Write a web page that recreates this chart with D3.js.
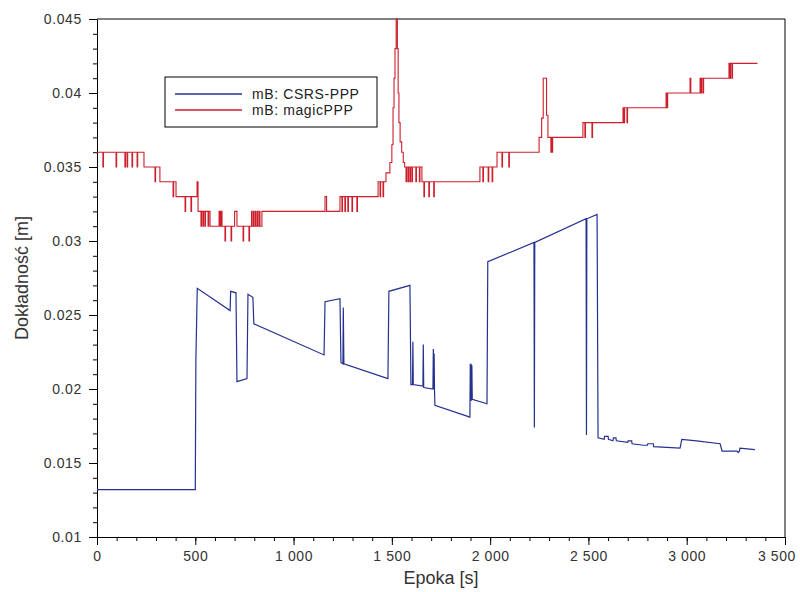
<!DOCTYPE html>
<html>
<head>
<meta charset="utf-8">
<script src="https://cdn.jsdelivr.net/npm/d3@7"></script>
<style>
  body { margin: 0; background: #fff; }
  text { font-family: "Liberation Sans", Arial, sans-serif; }
</style>
</head>
<body>
<div id="chart"></div>
<script>

// magicPPP: [epoka, dokladnosc] - step values (stepAfter)
var magicPPP = [
  [0,0.036],[30,0.035],[33,0.036],[97,0.035],[100,0.036],[142,0.035],[145,0.036],[153,0.035],[156,0.036],
  [178,0.035],[181,0.036],[204,0.035],[207,0.036],
  [239,0.035],[295,0.034],[298,0.035],
  [320,0.034],[387,0.033],[390,0.034],
  [402,0.033],[448,0.032],[451,0.033],[478,0.032],[481,0.033],
  [509,0.034],[514,0.032],[529,0.031],[532,0.032],[539,0.031],[542,0.032],[549,0.031],[552,0.032],[565,0.031],[568,0.032],
  [575,0.031],[621,0.032],[624,0.031],[627,0.032],[630,0.031],[633,0.032],[636,0.031],
  [651,0.030],[654,0.031],[682,0.030],[685,0.031],
  [700,0.032],[712,0.031],[743,0.030],[746,0.031],[773,0.030],[776,0.031],
  [786,0.032],[789,0.031],[796,0.032],[799,0.031],[806,0.032],[809,0.031],[816,0.032],[819,0.031],[826,0.032],[829,0.031],
  [839,0.032],[1160,0.033],[1168,0.032],
  [1236,0.033],[1246,0.032],[1249,0.033],[1261,0.032],[1264,0.033],[1276,0.032],[1279,0.033],[1297,0.032],[1300,0.033],[1322,0.032],[1325,0.033],
  [1430,0.034],[1440,0.033],[1443,0.034],[1455,0.033],[1458,0.034],
  [1470,0.0346],[1490,0.0353],[1500,0.0365],[1506,0.039],[1511,0.041],[1516,0.043],[1522,0.045],[1528,0.043],[1532,0.040],
  [1536,0.038],[1542,0.0367],[1550,0.036],[1558,0.0353],
  [1565,0.035],[1572,0.034],[1575,0.035],[1582,0.034],[1585,0.035],[1592,0.034],[1595,0.035],[1602,0.034],[1605,0.035],
  [1622,0.034],[1625,0.035],[1640,0.034],[1643,0.035],
  [1653,0.034],[1663,0.033],[1666,0.034],[1688,0.033],[1691,0.034],[1713,0.033],[1716,0.034],
  [1948,0.035],[1963,0.034],[1966,0.035],[1990,0.034],[1993,0.035],[2010,0.034],[2013,0.035],
  [2035,0.036],[2060,0.035],[2063,0.036],[2095,0.035],[2098,0.036],
  [2249,0.037],[2262,0.0383],[2270,0.041],[2287,0.0385],[2294,0.037],
  [2309,0.036],[2312,0.037],[2315,0.036],[2318,0.037],
  [2472,0.038],[2482,0.037],[2485,0.038],[2518,0.037],[2521,0.038],
  [2676,0.039],[2681,0.038],[2684,0.039],[2696,0.038],[2699,0.039],
  [2895,0.040],[2900,0.039],[2903,0.040],
  [3017,0.041],[3021,0.040],
  [3068,0.041],[3073,0.040],[3076,0.041],[3083,0.040],[3086,0.041],
  [3215,0.042],[3220,0.041],[3223,0.042],[3230,0.041],[3233,0.042],
  [3360,0.042]
];

// CSRS-PPP: [epoka, dokladnosc] - linear
var csrsPPP = [
  [0,0.0132],[500,0.0132],[503,0.0219],[510,0.0268],
  [677,0.0253],[680,0.0266],[707,0.0265],[712,0.0205],
  [763,0.0207],[768,0.0264],[793,0.0262],[798,0.0244],
  [1155,0.0223],[1160,0.0259],[1236,0.0261],[1241,0.0218],
  [1251,0.0217],[1253,0.0255],[1256,0.0217],
  [1480,0.0207],[1485,0.0266],[1592,0.0270],[1597,0.0203],
  [1605,0.0203],[1607,0.0232],[1609,0.0203],
  [1658,0.0202],[1660,0.0230],[1662,0.0201],
  [1709,0.0200],[1711,0.0227],[1713,0.0200],[1715,0.0224],[1717,0.0199],
  [1719,0.0189],[1897,0.0181],
  [1899,0.0217],[1901,0.0192],[1903,0.0217],[1905,0.0192],[1907,0.0216],[1909,0.0193],
  [1984,0.0190],[1988,0.0286],
  [2223,0.0299],[2225,0.0174],[2227,0.0299],
  [2488,0.0315],[2490,0.0169],[2492,0.0315],
  [2544,0.0318],[2549,0.0167],
  [2580,0.0166],[2582,0.0168],[2600,0.0168],[2602,0.0166],[2625,0.0165],[2627,0.0167],[2640,0.0167],[2642,0.0165],
  [2700,0.0164],[2702,0.0165],[2720,0.0165],[2722,0.0163],[2780,0.0162],[2800,0.0162],[2802,0.0163],
  [2830,0.0163],[2832,0.0161],[2966,0.0160],
  [2975,0.0166],[3050,0.0165],[3170,0.0163],[3180,0.0158],
  [3256,0.0158],[3262,0.0157],[3268,0.0158],[3271,0.0160],[3347,0.0159]
];

var xTicks = [0, 500, 1000, 1500, 2000, 2500, 3000, 3500];
var yTicks = [0.01, 0.015, 0.02, 0.025, 0.03, 0.035, 0.04, 0.045];
var legendNames = ["mB: CSRS-PPP", "mB: magicPPP"];
var colors = ["#25308f", "#cc1f2b"];

var W = 800, H = 592;
var margin = {top: 19, right: 15, bottom: 55, left: 97};

var svg = d3.select("#chart").append("svg")
    .attr("width", W)
    .attr("height", H);

var x = d3.scaleLinear().domain([0, 3500]).range([margin.left, W - margin.right]);
var y = d3.scaleLinear().domain([0.01, 0.045]).range([H - margin.bottom, margin.top]);

// minor ticks first
svg.append("g")
    .attr("transform", "translate(0," + (H - margin.bottom) + ")")
    .call(d3.axisBottom(x).tickValues(d3.range(0, 3501, 100)).tickSize(4).tickFormat(""))
    .call(function(g){ g.select(".domain").remove(); });

svg.append("g")
    .attr("transform", "translate(" + margin.left + ",0)")
    .call(d3.axisLeft(y).tickValues(d3.range(10, 45.5, 1).map(function(d){ return d / 1000; })).tickSize(4).tickFormat(""))
    .call(function(g){ g.select(".domain").remove(); });

var fmtX = function(d){ return d3.format(",")(d).replace(",", " "); };

var gx = svg.append("g")
    .attr("transform", "translate(0," + (H - margin.bottom) + ")")
    .call(d3.axisBottom(x).tickValues(xTicks).tickSize(8).tickSizeOuter(0).tickFormat(fmtX));
gx.selectAll("text")
    .attr("font-size", 14).attr("fill", "#333").attr("dy", "0.95em")
    .style("letter-spacing", "0.6px");
// last label pulled inside the page
gx.selectAll(".tick").filter(function(d){ return d === 3500; }).select("text")
    .attr("text-anchor", "end").attr("dx", "0.75em");

var gy = svg.append("g")
    .attr("transform", "translate(" + margin.left + ",0)")
    .call(d3.axisLeft(y).tickValues(yTicks).tickSize(8).tickSizeOuter(0).tickFormat(function(d){ return String(+d.toFixed(3)); }));
gy.selectAll("text")
    .attr("font-size", 14).attr("fill", "#333").attr("dx", "-0.3em")
    .style("letter-spacing", "0.6px");

svg.selectAll(".domain").attr("stroke", "#000");
svg.selectAll(".tick line").attr("stroke", "#000");

// top and right frame
svg.append("line")
    .attr("x1", x(0)).attr("x2", x(3500)).attr("y1", y(0.045)).attr("y2", y(0.045))
    .attr("stroke", "#000");
svg.append("line")
    .attr("x1", x(3500)).attr("x2", x(3500)).attr("y1", y(0.045)).attr("y2", y(0.01))
    .attr("stroke", "#000");

var lineStep = d3.line()
    .x(function(d){ return x(d[0]); })
    .y(function(d){ return y(d[1]); })
    .curve(d3.curveStepAfter);

var lineLin = d3.line()
    .x(function(d){ return x(d[0]); })
    .y(function(d){ return y(d[1]); });

svg.append("path")
    .datum(csrsPPP)
    .attr("d", lineLin)
    .attr("fill", "none")
    .attr("stroke", colors[0])
    .attr("stroke-width", 1.2);

svg.append("path")
    .datum(magicPPP)
    .attr("d", lineStep)
    .attr("fill", "none")
    .attr("stroke", colors[1])
    .attr("stroke-width", 1.1);

// axis titles
svg.append("text")
    .attr("x", (margin.left + W - margin.right) / 2)
    .attr("y", 584)
    .attr("text-anchor", "middle")
    .attr("font-size", 18)
    .attr("fill", "#333")
    .text("Epoka [s]");

svg.append("text")
    .attr("transform", "translate(28," + ((margin.top + H - margin.bottom) / 2) + ") rotate(-90)")
    .attr("text-anchor", "middle")
    .attr("font-size", 18)
    .attr("fill", "#333")
    .text("Dokładność [m]");

// legend
var leg = svg.append("g").attr("transform", "translate(165,77)");
leg.append("rect")
    .attr("width", 212).attr("height", 50)
    .attr("fill", "#fff").attr("stroke", "#000");
legendNames.forEach(function(name, i){
  var ly = 17 + i * 16;
  leg.append("line")
      .attr("x1", 10).attr("x2", 77).attr("y1", ly).attr("y2", ly)
      .attr("stroke", colors[i]).attr("stroke-width", 1.3);
  leg.append("text")
      .attr("x", 87).attr("y", ly + 5)
      .attr("font-size", 14)
      .attr("fill", "#222")
      .style("letter-spacing", "0.6px")
      .text(name);
});

</script>
</body>
</html>
